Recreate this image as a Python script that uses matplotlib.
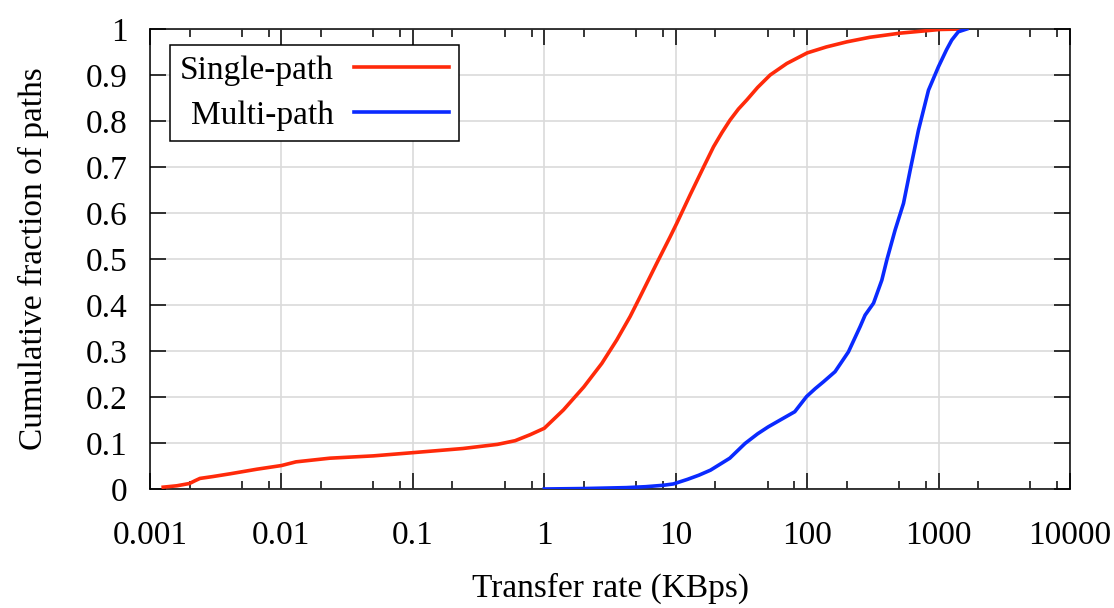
import matplotlib
matplotlib.use("Agg")
import matplotlib.pyplot as plt
from matplotlib.ticker import FixedLocator, FixedFormatter, LogLocator, NullFormatter

# Single-path transfer rate CDF (KBps, cumulative fraction)
single_rate = [0.00126, 0.0016, 0.002, 0.0022, 0.0024, 0.003, 0.00406, 0.0065, 0.01,
               0.0129, 0.0234, 0.05, 0.1, 0.24, 0.44, 0.6, 0.78, 1.0, 1.4, 2.0,
               2.74, 3.56, 4.5, 5.36, 7.18, 9.06, 10.2, 12.9, 16.3, 19.4, 22.5, 25.9,
               30, 34.8, 42, 52.3, 70, 100, 140, 200, 300, 510, 1028, 1540]
single_frac = [0.004, 0.007, 0.012, 0.018, 0.023, 0.027, 0.033, 0.043, 0.051,
               0.059, 0.067, 0.072, 0.079, 0.088, 0.097, 0.105, 0.118, 0.132, 0.172, 0.222,
               0.273, 0.324, 0.375, 0.418, 0.491, 0.548, 0.578, 0.640, 0.700, 0.744, 0.775, 0.802,
               0.826, 0.846, 0.873, 0.900, 0.925, 0.948, 0.961, 0.972, 0.982, 0.991, 0.999, 1.0]

# Multi-path transfer rate CDF
multi_rate = [1.0, 2.0, 4.2, 5.9, 8.0, 9.6, 12.3, 15, 18.4, 25.8, 33.7, 42, 50.5,
              62.4, 80.5, 99, 115, 133, 163, 206, 253, 276, 320, 370, 404, 467,
              541, 608, 703, 838, 998, 1150, 1260, 1413, 1640]
multi_frac = [0.0, 0.001, 0.003, 0.005, 0.008, 0.011, 0.021, 0.030, 0.041, 0.067, 0.099, 0.120, 0.135,
              0.150, 0.168, 0.201, 0.218, 0.233, 0.255, 0.298, 0.353, 0.378, 0.404, 0.454, 0.498, 0.563,
              0.621, 0.693, 0.780, 0.867, 0.918, 0.955, 0.976, 0.994, 1.0]

x_ticks = [0.001, 0.01, 0.1, 1, 10, 100, 1000, 10000]
x_tick_labels = ["0.001", "0.01", "0.1", "1", "10", "100", "1000", "10000"]
y_ticks = [0, 0.1, 0.2, 0.3, 0.4, 0.5, 0.6, 0.7, 0.8, 0.9, 1.0]
y_tick_labels = ["0", "0.1", "0.2", "0.3", "0.4", "0.5", "0.6", "0.7", "0.8", "0.9", "1"]

series_names = ["Single-path", "Multi-path"]
series_colors = ["#ff2a0a", "#0a2aff"]

FS = 24
plt.rcParams["font.family"] = ["Liberation Serif", "DejaVu Serif"]
plt.rcParams["font.size"] = FS

fig = plt.figure(figsize=(11.14, 6.08), dpi=100)
ax = fig.add_axes([150 / 1114, 1 - 489 / 608, 920 / 1114, 460 / 608])

ax.plot(single_rate, single_frac, color=series_colors[0], lw=2.6,
        label=series_names[0], zorder=3, solid_joinstyle="round")
ax.plot(multi_rate, multi_frac, color=series_colors[1], lw=2.6,
        label=series_names[1], zorder=3, solid_joinstyle="round")

ax.set_xscale("log")
ax.set_xlim(0.001, 10000)
ax.set_ylim(0, 1)

ax.xaxis.set_major_locator(FixedLocator(x_ticks))
ax.xaxis.set_major_formatter(FixedFormatter(x_tick_labels))
ax.xaxis.set_minor_locator(LogLocator(base=10, subs=[2, 5, 8], numticks=20))
ax.xaxis.set_minor_formatter(NullFormatter())
ax.yaxis.set_major_locator(FixedLocator(y_ticks))
ax.yaxis.set_major_formatter(FixedFormatter(y_tick_labels))

ax.grid(True, which="major", color="#dadada", lw=1.2, zorder=0)
ax.set_axisbelow(True)

ax.tick_params(which="both", direction="in", top=True, right=True,
               width=1.1, color="black", labelsize=FS)
ax.tick_params(which="major", length=11.5)
ax.tick_params(which="minor", length=5.8)
ax.tick_params(axis="x", which="major", pad=22.5)
ax.tick_params(axis="y", which="major", pad=16)

for sp in ax.spines.values():
    sp.set_linewidth(1.1)
    sp.set_color("black")

ax.set_xlabel("Transfer rate (KBps)", fontsize=FS)
ax.xaxis.set_label_coords(0.5, -0.183)
ax.set_ylabel("Cumulative fraction of paths", fontsize=FS)
ax.yaxis.set_label_coords(-0.110, 0.5)

leg = ax.legend(loc="upper left", bbox_to_anchor=(20 / 920, 1 - 16 / 460),
                borderaxespad=0, markerfirst=False, fancybox=False,
                framealpha=1, edgecolor="black", fontsize=FS,
                handlelength=2.85, handletextpad=0.6, labelspacing=0.45,
                borderpad=0.3)
leg.get_frame().set_linewidth(1.1)

fig.savefig("out.png", dpi=100)
